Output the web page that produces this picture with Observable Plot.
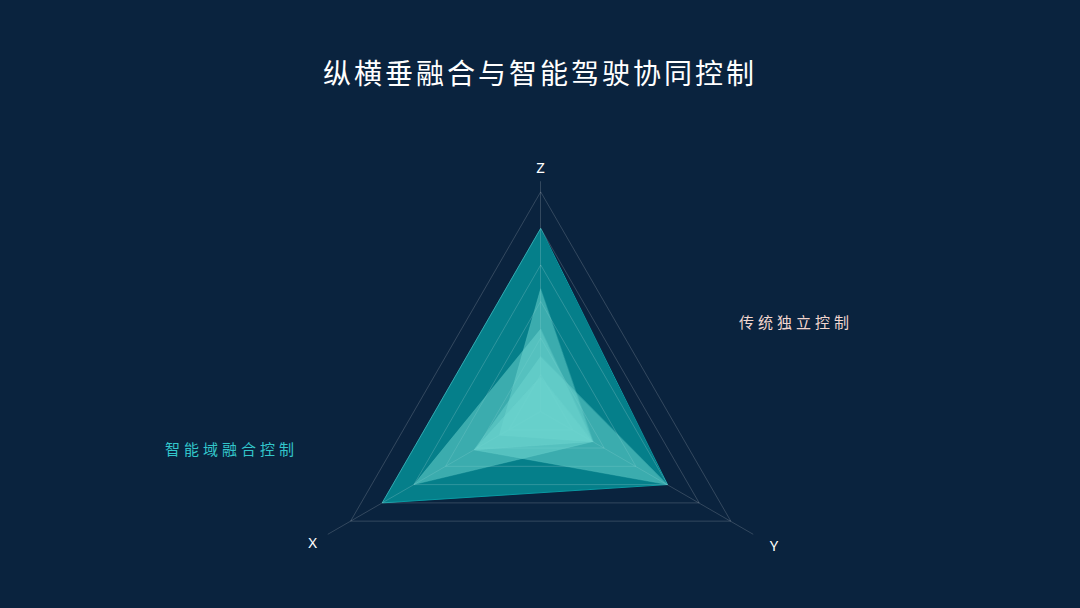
<!DOCTYPE html>
<html>
<head>
<meta charset="utf-8">
<script src="https://cdn.jsdelivr.net/npm/d3@7"></script>
<script src="https://cdn.jsdelivr.net/npm/@observablehq/plot@0.6"></script>
<style>
  html, body { margin: 0; padding: 0; background: #0a233e; }
  #wrap { position: relative; width: 1080px; height: 608px; overflow: hidden; background: #0a233e; }
  #title { position: absolute; left: 0; top: 52px; width: 1080px; text-align: center; color: #ffffff;
           font-family: "Noto Sans CJK SC", sans-serif; font-size: 28px; letter-spacing: 3px; line-height: 40px; }
  .legend { position: absolute; font-family: "Noto Sans CJK SC", sans-serif; font-size: 15px; letter-spacing: 4px; line-height: 20px; white-space: nowrap; }
  #chart { position: absolute; left: 0; top: 0; }
</style>
</head>
<body>
<div id="wrap">
  <div id="chart"></div>
  <div id="title"></div>
  <div id="legend1" class="legend" style="left:739px; top:312px; color:#f3d7cf;"></div>
  <div id="legend2" class="legend" style="left:165px; top:439px; color:#33c6cb;"></div>
</div>
<script>
// ---- data ----
const titleText = "纵横垂融合与智能驾驶协同控制";
const legendNames = ["传统独立控制", "智能域融合控制"];
const axesNames = ["Z", "X", "Y"];
const axisAngles = [90, 210, 330];          // degrees
const maxValue = 120;
const gridLevels = [20, 40, 60, 80, 100, 120];
const axisExtent = [1.05, 1.12, 1.12];     // axis line length relative to max
const labelRadius = [1.11, 1.2, 1.23];

// values per axis in order Z, X, Y
const seriesDark = [100, 100, 80];
const seriesLightA = [67, 26, 33];
const seriesLightB = [30, 42, 80];
const seriesLightC = [19, 42, 33];
const seriesLightD = [45, 80, 33];

// ---- build ----
document.getElementById("title").textContent = titleText;
document.getElementById("legend1").textContent = legendNames[0];
document.getElementById("legend2").textContent = legendNames[1];

const W = 1080, H = 608, cx = 540, cy = 411, R = 219.3;

function pt(i, v) {
  const a = axisAngles[i] * Math.PI / 180;
  const r = v / maxValue;
  return {x: r * Math.cos(a), y: r * Math.sin(a)};
}

const gridData = gridLevels.flatMap(l => axesNames.map((_, i) => ({...pt(i, l), level: l})));
const axisData = axesNames.map((name, i) => {
  const e = pt(i, maxValue * axisExtent[i]);
  return {x1: 0, y1: 0, x2: e.x, y2: e.y};
});
const labelData = axesNames.map((name, i) => ({...pt(i, maxValue * labelRadius[i]), name}));

function poly(values, name) {
  return values.map((v, i) => ({...pt(i, v), name}));
}

const darkFill = "#058790";
const lightFill = "#6ed4cf";

const lights = [seriesLightD, seriesLightB, seriesLightA, seriesLightC];

const chart = Plot.plot({
  width: W,
  height: H,
  margin: 0,
  style: {background: "transparent", color: "white"},
  x: {domain: [-cx / R, (W - cx) / R], range: [0, W], axis: null},
  y: {domain: [-(H - cy) / R, cy / R], range: [H, 0], axis: null},
  marks: [
    Plot.line(poly(seriesDark, "dark"), {x: "x", y: "y", curve: "linear-closed", fill: darkFill, fillOpacity: 0.93, stroke: "#0a9aa3", strokeWidth: 1}),
    Plot.line(gridData, {x: "x", y: "y", z: "level", curve: "linear-closed", stroke: "#ffffff", strokeOpacity: 0.17, strokeWidth: 1}),
    Plot.link(axisData, {x1: "x1", y1: "y1", x2: "x2", y2: "y2", stroke: "#ffffff", strokeOpacity: 0.17, strokeWidth: 1}),
    ...lights.map((s, k) => Plot.line(poly(s, "light" + k), {x: "x", y: "y", curve: "linear-closed", fill: lightFill, fillOpacity: 0.52, stroke: lightFill, strokeOpacity: 0.25, strokeWidth: 1})),
    Plot.text(labelData, {x: "x", y: "y", text: "name", fill: "white", fontSize: 15, fontFamily: "Noto Sans"})
  ]
});
document.getElementById("chart").appendChild(chart);
</script>
</body>
</html>
